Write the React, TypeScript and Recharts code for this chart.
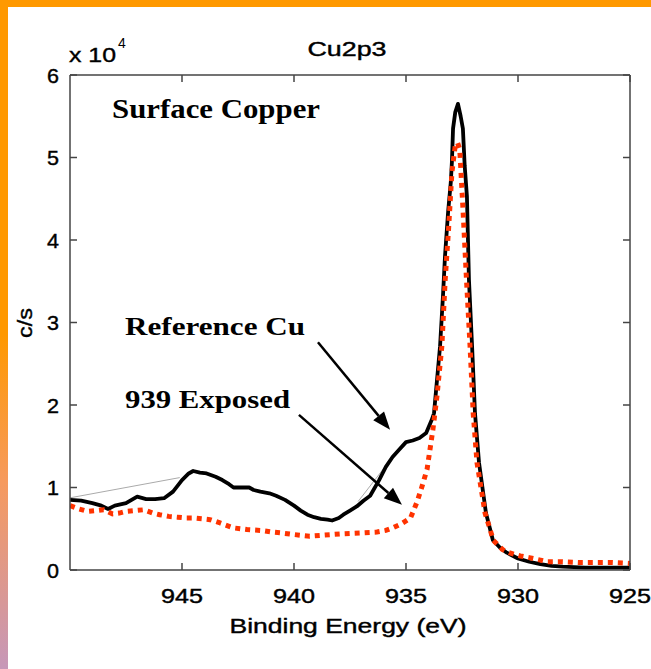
import React from 'react';
import { LineChart, Line, XAxis, YAxis, ReferenceLine } from 'recharts';

// binding energy (eV), counts (c/s)
const referenceCu: [number, number][] = [
  [950.0, 8500], [949.5, 8400], [949.0, 8100], [948.6, 7800], [948.3, 7400],
  [948.0, 7800], [947.5, 8100], [947.0, 8900], [946.6, 8600], [946.2, 8600],
  [945.8, 8700], [945.4, 9500], [945.0, 10900], [944.7, 11700], [944.5, 12000],
  [944.2, 11800], [943.9, 11700], [943.5, 11300], [943.2, 10900], [942.9, 10400],
  [942.7, 10000], [942.3, 10000], [942.0, 10000], [941.8, 9700], [941.5, 9500],
  [941.1, 9300], [940.8, 9000], [940.4, 8500], [940.0, 7800], [939.7, 7200],
  [939.4, 6700], [939.1, 6400], [938.8, 6200], [938.5, 6100], [938.3, 6000],
  [938.0, 6300], [937.8, 6700], [937.5, 7200], [937.2, 7700], [936.9, 8400],
  [936.6, 9000], [936.2, 10900], [935.9, 12500], [935.6, 13700], [935.3, 14600],
  [935.0, 15500], [934.7, 15700], [934.4, 16000], [934.1, 16600], [933.85, 18200],
  [933.75, 19000], [933.48, 27100], [933.35, 33200], [933.26, 38000], [933.12, 43400],
  [933.0, 47000], [932.95, 49500], [932.9, 53500], [932.8, 55500], [932.68, 56500],
  [932.56, 55000], [932.46, 53500], [932.38, 49000], [932.28, 45300], [932.19, 35200],
  [932.05, 27100], [931.92, 19000], [931.74, 13000], [931.43, 6900], [931.12, 3600],
  [930.8, 2700], [930.5, 2100], [930.0, 1400], [929.5, 1000], [929.0, 700],
  [928.5, 500], [928.0, 400], [927.0, 300], [926.0, 300], [925.0, 300],
];

const exposed939: [number, number][] = [
  [950.0, 7800], [949.6, 7400], [949.2, 7100], [948.8, 7200], [948.5, 7300],
  [948.1, 6800], [947.8, 6900], [947.5, 7100], [947.1, 7200], [946.7, 7300],
  [946.3, 6900], [946.0, 6700], [945.6, 6500], [945.2, 6400], [944.8, 6300],
  [944.5, 6300], [944.1, 6200], [943.75, 6100], [943.3, 5700], [942.7, 5100],
  [942.1, 4900], [941.5, 4800], [941.0, 4600], [940.6, 4500], [940.0, 4300],
  [939.3, 4100], [938.8, 4200], [938.3, 4300], [937.8, 4400], [937.0, 4500],
  [936.3, 4600], [935.9, 4800], [935.6, 5100], [935.2, 5600], [934.8, 6300],
  [934.5, 8300], [934.3, 10000], [934.06, 12200], [933.8, 17000], [933.62, 21000],
  [933.4, 27100], [933.25, 35200], [933.1, 41300], [932.95, 48200], [932.8, 51500],
  [932.7, 51800], [932.6, 51000], [932.45, 43400], [932.3, 35200], [932.14, 27100],
  [932.0, 19000], [931.83, 13000], [931.47, 6900], [931.1, 3600], [930.7, 2500],
  [930.4, 2100], [929.9, 1700], [929.5, 1500], [929.0, 1200], [928.7, 1000],
  [928.0, 1000], [927.2, 900], [926.5, 900], [925.8, 900], [925.0, 800],
];

// thin grey stray segments in the original
const strayA: [number, number][] = [[950.0, 8750], [945.1, 11200]];
const strayB: [number, number][] = [[937.14, 8300], [935.94, 12500]];

const xTicks = [925, 930, 935, 940, 945];
const yTicks = [0, 10000, 20000, 30000, 40000, 50000, 60000];

// annotation arrows: [from, to] in data coords
const arrowRef = [{ x: 938.93, y: 27600 }, { x: 935.71, y: 17000 }];
const arrowExp = [{ x: 939.78, y: 18800 }, { x: 935.18, y: 7900 }];

const toRows = (pts: [number, number][]) => pts.map(([e, v]) => ({ e, v }));

const AXIS = '#444';
const SANS = '"Liberation Sans", Arial, sans-serif';
const SERIF = '"Liberation Serif", "Times New Roman", serif';
// the original's labels look a touch heavier than a plain regular weight
const heavy = { stroke: '#000', strokeWidth: 0.4 };

const BottomTick = (props: any) => {
  const { x, y, payload } = props;
  return (
    <g>
      <line x1={x} y1={y} x2={x} y2={y - 7} stroke={AXIS} strokeWidth={1.5} />
      <text x={x} y={y + 33} textAnchor="middle" fontFamily={SANS} fontSize={20}
        textLength={42} lengthAdjust="spacingAndGlyphs" fill="#000" {...heavy}>{payload.value}</text>
    </g>
  );
};

const TopTick = (props: any) => {
  const { x, y } = props;
  return <line x1={x} y1={y} x2={x} y2={y + 7} stroke={AXIS} strokeWidth={1.5} />;
};

const LeftTick = (props: any) => {
  const { x, y, payload } = props;
  return (
    <g>
      <line x1={x} y1={y} x2={x + 7} y2={y} stroke={AXIS} strokeWidth={1.5} />
      <text x={x - 11} y={y + 7.5} textAnchor="end" fontFamily={SANS} fontSize={21}
        textLength={12} lengthAdjust="spacingAndGlyphs" fill="#000" {...heavy}>{payload.value / 10000}</text>
    </g>
  );
};

const RightTick = (props: any) => {
  const { x, y } = props;
  return <line x1={x} y1={y} x2={x - 7} y2={y} stroke={AXIS} strokeWidth={1.5} />;
};

const ArrowShape = (props: any) => {
  const { x1, y1, x2, y2 } = props;
  const dx = x2 - x1;
  const dy = y2 - y1;
  const len = Math.sqrt(dx * dx + dy * dy) || 1;
  const ux = dx / len;
  const uy = dy / len;
  const hl = 18;
  const hw = 7;
  const bx = x2 - ux * hl;
  const by = y2 - uy * hl;
  const pts = `${x2},${y2} ${bx - uy * hw},${by + ux * hw} ${bx + uy * hw},${by - ux * hw}`;
  return (
    <g>
      <line x1={x1} y1={y1} x2={bx} y2={by} stroke="#000" strokeWidth={2.5} />
      <polygon points={pts} fill="#000" />
    </g>
  );
};

export default function App() {
  return (
    <div style={{ position: 'fixed', left: 0, top: 0, width: 651, height: 669, background: '#fff', overflow: 'hidden' }}>
      <div style={{ position: 'absolute', left: 0, top: 0, width: 651, height: 7, background: '#ff9900' }} />
      <div
        style={{
          position: 'absolute', left: 0, top: 0, width: 8, height: 669,
          background: 'linear-gradient(to bottom, #ff9900 0%, #ff9900 50%, #f69a5e 72%, #c697b9 100%)',
        }}
      />
      <div style={{ position: 'absolute', left: 0, top: 0 }}>
        <LineChart width={651} height={669} margin={{ top: 74, right: 20, bottom: 59, left: 0 }}>
          <XAxis xAxisId="b" dataKey="e" type="number" domain={[925, 950]} reversed allowDataOverflow
            ticks={xTicks} interval={0} height={40} tickSize={0} tickMargin={0}
            axisLine={{ stroke: AXIS, strokeWidth: 1.5 }} tickLine={false} tick={BottomTick} />
          <XAxis xAxisId="t" orientation="top" dataKey="e" type="number" domain={[925, 950]} reversed allowDataOverflow
            ticks={xTicks} interval={0} height={1} tickSize={0} tickMargin={0}
            axisLine={{ stroke: AXIS, strokeWidth: 1.5 }} tickLine={false} tick={TopTick} />
          <YAxis yAxisId="l" type="number" domain={[0, 60000]} allowDataOverflow ticks={yTicks} interval={0}
            width={70} tickSize={0} tickMargin={0}
            axisLine={{ stroke: AXIS, strokeWidth: 1.5 }} tickLine={false} tick={LeftTick} />
          <YAxis yAxisId="r" orientation="right" type="number" domain={[0, 60000]} allowDataOverflow ticks={yTicks}
            interval={0} width={1} tickSize={0} tickMargin={0}
            axisLine={{ stroke: AXIS, strokeWidth: 1.5 }} tickLine={false} tick={RightTick} />
          <Line xAxisId="b" yAxisId="l" data={toRows(strayA)} dataKey="v" type="linear" stroke="#aaa"
            strokeWidth={1} dot={false} isAnimationActive={false} />
          <Line xAxisId="b" yAxisId="l" data={toRows(strayB)} dataKey="v" type="linear" stroke="#aaa"
            strokeWidth={1} dot={false} isAnimationActive={false} />
          <Line xAxisId="b" yAxisId="l" data={toRows(referenceCu)} dataKey="v" type="linear" stroke="#000"
            strokeWidth={3.8} strokeLinejoin="round" dot={false} isAnimationActive={false} />
          <Line xAxisId="b" yAxisId="l" data={toRows(exposed939)} dataKey="v" type="linear" stroke="#ff3300"
            strokeWidth={5} strokeDasharray="5 5" dot={false} isAnimationActive={false} />
          <ReferenceLine xAxisId="b" yAxisId="l" segment={arrowRef} shape={ArrowShape} ifOverflow="visible" />
          <ReferenceLine xAxisId="b" yAxisId="l" segment={arrowExp} shape={ArrowShape} ifOverflow="visible" />
        </LineChart>
      </div>
      <svg width={651} height={669} style={{ position: 'absolute', left: 0, top: 0, pointerEvents: 'none' }}>
        <text x={347} y={56} textAnchor="middle" fontFamily={SANS} fontSize={20} textLength={79}
          lengthAdjust="spacingAndGlyphs" {...heavy}>Cu2p3</text>
        <text x={69} y={62} fontFamily={SANS} fontSize={21} textLength={47} lengthAdjust="spacingAndGlyphs"
          {...heavy}>x 10</text>
        <text x={118} y={48} fontFamily={SANS} fontSize={14}>4</text>
        <text x={348} y={633} textAnchor="middle" fontFamily={SANS} fontSize={21} textLength={237}
          lengthAdjust="spacingAndGlyphs" {...heavy}>Binding Energy (eV)</text>
        <text x={0} y={0} transform="translate(32 323) rotate(-90)" textAnchor="middle" fontFamily={SANS}
          fontSize={21} textLength={30} lengthAdjust="spacingAndGlyphs" {...heavy}>c/s</text>
        <text x={112} y={118} fontFamily={SERIF} fontWeight="bold" fontSize={28} textLength={208}
          lengthAdjust="spacingAndGlyphs">Surface Copper</text>
        <text x={125} y={335} fontFamily={SERIF} fontWeight="bold" fontSize={26} textLength={180}
          lengthAdjust="spacingAndGlyphs">Reference Cu</text>
        <text x={125} y={408} fontFamily={SERIF} fontWeight="bold" fontSize={26} textLength={165}
          lengthAdjust="spacingAndGlyphs">939 Exposed</text>
      </svg>
    </div>
  );
}
